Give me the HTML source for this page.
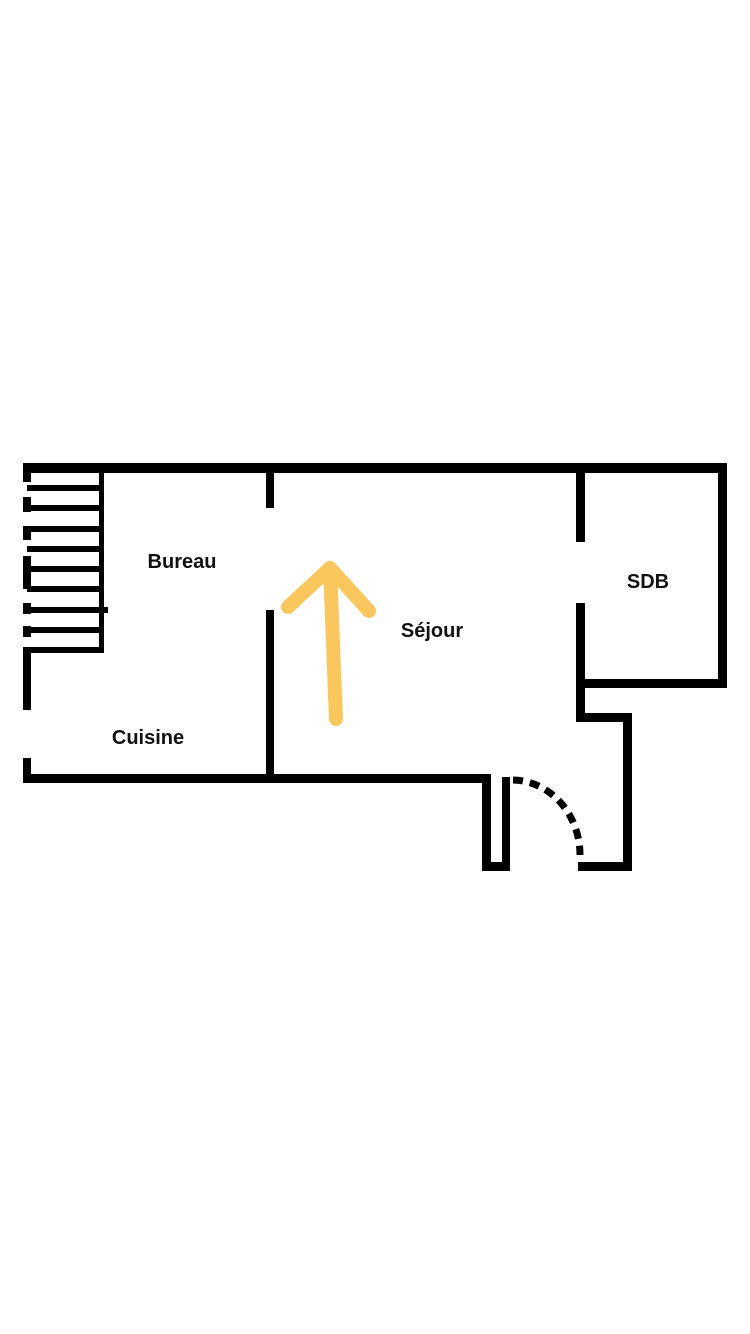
<!DOCTYPE html>
<html><head><meta charset="utf-8"><style>
html,body{margin:0;padding:0;background:#fff;}
svg{display:block}
text{font-family:"Liberation Sans",sans-serif;font-weight:bold;font-size:20px;fill:#111}
</style></head><body>
<svg width="750" height="1334" viewBox="0 0 750 1334">
<g fill="#000">
<rect x="23" y="463" width="704" height="10"/>
<rect x="718" y="463" width="9" height="225"/>
<rect x="576" y="679" width="151" height="9"/>
<rect x="576" y="463" width="9" height="79"/>
<rect x="576" y="603" width="9" height="119"/>
<rect x="576" y="713" width="56" height="9"/>
<rect x="623" y="713" width="9" height="158"/>
<rect x="578" y="862" width="54" height="9"/>
<rect x="23" y="774" width="468" height="9"/>
<rect x="482" y="774" width="9" height="97"/>
<rect x="482" y="862" width="28" height="9"/>
<rect x="502" y="777" width="8" height="94"/>
<rect x="266" y="463" width="8" height="45"/>
<rect x="266" y="610" width="8" height="170"/>
<rect x="23" y="650" width="8" height="60"/>
<rect x="23" y="758" width="8" height="25"/>
<rect x="23" y="463" width="8" height="19"/>
<rect x="23" y="497" width="8" height="15"/>
<rect x="23" y="526" width="8" height="14"/>
<rect x="23" y="556" width="8" height="33"/>
<rect x="23" y="603" width="8" height="11"/>
<rect x="23" y="626" width="8" height="11"/>
<rect x="99" y="463" width="5" height="190"/>
<rect x="27" y="485" width="72" height="6"/>
<rect x="27" y="505" width="72" height="6"/>
<rect x="27" y="526" width="72" height="6"/>
<rect x="27" y="546" width="72" height="6"/>
<rect x="27" y="566" width="72" height="6"/>
<rect x="27" y="586" width="72" height="6"/>
<rect x="27" y="607" width="81" height="6"/>
<rect x="27" y="627" width="72" height="6"/>
<rect x="23" y="647" width="81" height="6"/>
</g>
<path d="M513 780 A68 75 0 0 1 580 855" fill="none" stroke="#000" stroke-width="7" stroke-dasharray="10 7"/>
<g fill="none" stroke="#f9c75d" stroke-width="14" stroke-linecap="round" stroke-linejoin="round">
<path d="M336 719 L330 568"/>
<path d="M288 607 L330 568 L369 611"/>
</g>
<text x="182" y="568" text-anchor="middle">Bureau</text>
<text x="432" y="637" text-anchor="middle">Séjour</text>
<text x="148" y="744" text-anchor="middle">Cuisine</text>
<text x="648" y="588" text-anchor="middle">SDB</text>
</svg>
</body></html>
